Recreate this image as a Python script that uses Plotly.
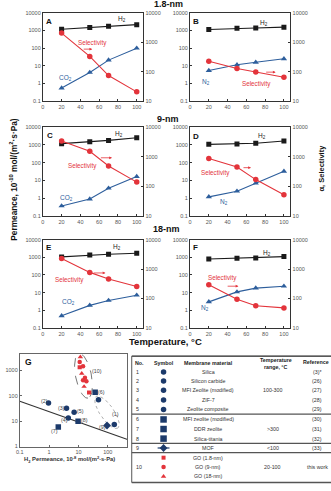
import numpy as np
import plotly.graph_objects as go

W, H = 331, 491
FONT = "Liberation Sans, Arial, Helvetica, sans-serif"
RED = "#e3343b"
BLUE = "#2d5e9c"
BLACK = "#1a1a1a"
NAVY = "#1c3a6b"
AX = "#333333"


def fx(p):
    return p / W


def fy(p):
    return 1 - p / H


# ---------------- data: panels A-F ----------------
temps = [20, 50, 70, 100]

a_h2 = [1180, 1470, 1740, 2150]
a_co2 = [0.55, 4.2, 21, 100]
a_sel = [2050, 330, 74, 20.6]

b_h2 = [1140, 1350, 1400, 1550]
b_n2 = [5.4, 11.4, 15.8, 25]
b_sel = [227, 129, 97, 65]

c_h2 = [1180, 1500, 1800, 2550]
c_co2 = [0.37, 0.9, 3.7, 16.7]
c_sel = [3400, 1540, 490, 140]

d_h2 = [1080, 1120, 1250, 1650]
d_n2 = [1.2, 2.5, 7.1, 33]
d_sel = [880, 450, 170, 52]

e_h2 = [1050, 1350, 1470, 1670]
e_co2 = [0.49, 1.9, 3.6, 7.1]
e_sel = [2300, 770, 460, 255]

f_h2 = [800, 880, 900, 1090]
f_n2 = [3.0, 11, 18, 23]
f_sel = [293, 95, 57, 48]

left_ticks = [0.1, 1, 10, 100, 1000, 10000]
left_ticktext = ["0.1", "1", "10", "100", "1000", "10000"]
right_ticks = [10, 100, 1000, 10000]
right_ticktext = ["10", "100", "1000", "10000"]
temp_ticks = [0, 20, 40, 60, 80, 100]

# ---------------- data: panel G ----------------
g_circle_x = [48, 166, 0.95, 3.9, 4.5, 7.1]
g_circle_y = [68, 7.3, 51, 32, 13.3, 22]
g_square_x = [37, 2.05, 9.7]
g_square_y = [135, 5.8, 9.9]
g_mof_x = [94]
g_mof_y = [6.7]
g_go18_x = [11, 23]          # GO 1.8-nm (squares)
g_go18_y = [1300, 132]
g_go9_x = [11, 14.3, 16.6, 14.3, 18.6]   # GO 9-nm (circles)
g_go9_y = [2100, 1420, 500, 405, 370]
g_go180_x = [11.6, 12.9, 15.5]  # GO 18-nm (triangles)
g_go180_y = [3300, 740, 225]
g_bound_x = [0.1, 470]
g_bound_y = [60, 1.9]
g_xticks = [0.1, 1, 10, 100]
g_xticktext = ["0.1", "1", "10", "100"]
g_yticks = [1, 10, 100, 1000]
g_yticktext = ["1", "10", "100", "1000"]

# ---------------- table ----------------
table_no = ["1", "2", "3", "4", "5", "6", "7", "8", "9", "10"]
table_material = ["Silica", "Silicon carbide", "MFI Zeolite (modified)", "ZIF-7",
                  "Zeolite composite", "MFI zeolite (modified)", "DDR zeolite",
                  "Silica-titania", "MOF", "GO (1.8-nm)", "GO (9-nm)", "GO (18-nm)"]
table_ref = ["(3)*", "(26)", "(27)", "(28)", "(29)", "(30)", "(31)", "(32)", "(33)"]
table_temp = ["100-300", ">300", "<100", "20-100"]

# ---------------- layout geometry (pixels) ----------------
cols = [(39.3, 141.0), (188.3, 290.0)]
rows = [(10.0, 99.3), (125.7, 215.7), (239.5, 329.0)]
X_RANGE = [0, 107]

panels = [
    dict(letter="A", h2=a_h2, gas=a_co2, gname="CO<sub>2</sub>", sel=a_sel,
         lp=(45.5, 18.3), h2p=(119, 16.5), gp=(62.5, 76), sp=(90, 40.8), ar=(79.3, 89.3, 46.7)),
    dict(letter="B", h2=b_h2, gas=b_n2, gname="N<sub>2</sub>", sel=b_sel,
         lp=(194.5, 18.3), h2p=(263.3, 20), gp=(204.3, 79.5), sp=(256, 82.5), ar=(264, 275, 70)),
    dict(letter="C", h2=c_h2, gas=c_co2, gname="CO<sub>2</sub>", sel=c_sel,
         lp=(47, 134), h2p=(116, 132.5), gp=(63.3, 197.5), sp=(79, 165), ar=(96.7, 109.3, 156.7)),
    dict(letter="D", h2=d_h2, gas=d_n2, gname="N<sub>2</sub>", sel=d_sel,
         lp=(194.5, 135), h2p=(261.3, 135), gp=(223, 201), sp=(214, 172.5), ar=(241, 250, 166.7)),
    dict(letter="E", h2=e_h2, gas=e_co2, gname="CO<sub>2</sub>", sel=e_sel,
         lp=(45.8, 247.5), h2p=(114, 246.7), gp=(65, 302.5), sp=(66.7, 280.8), ar=(89.3, 102.7, 273.3)),
    dict(letter="F", h2=f_h2, gas=f_n2, gname="N<sub>2</sub>", sel=f_sel,
         lp=(194, 247.5), h2p=(266, 253), gp=(203.7, 309), sp=(220.7, 278.5), ar=(225, 237.3, 286.7)),
]


def aname(kind, n):
    return kind if n == 1 else f"{kind}{n}"


def akey(kind, n):
    return f"{kind}axis" if n == 1 else f"{kind}axis{n}"


tick_font = dict(size=5.5, color="#555555", family=FONT)

fig = go.Figure()
layout = dict(width=W, height=H, margin=dict(l=0, r=0, t=0, b=0),
              paper_bgcolor="white", plot_bgcolor="rgba(0,0,0,0)",
              showlegend=False, font=dict(family=FONT, color="#333"))
annotations = []
shapes = []

common_axis = dict(showline=True, linecolor=AX, linewidth=1, showgrid=False, zeroline=False,
                   ticks="inside", ticklen=2, tickwidth=0.8, tickcolor=AX, tickfont=tick_font)

for i, p in enumerate(panels):
    r, c = divmod(i, 2)
    xl, xr = cols[c]
    yt, yb = rows[r]
    xn = i + 1
    yl = 2 * i + 1
    yr = 2 * i + 2
    layout[akey("x", xn)] = dict(domain=[fx(xl), fx(xr)], range=X_RANGE, anchor=aname("y", yl),
                                 tickvals=temp_ticks, mirror=True, **common_axis)
    layout[akey("y", yl)] = dict(domain=[fy(yb), fy(yt)], type="log", range=[-1, 4],
                                 anchor=aname("x", xn), tickvals=left_ticks, ticktext=left_ticktext,
                                 **common_axis)
    layout[akey("y", yr)] = dict(overlaying=aname("y", yl), side="right", type="log", range=[1, 4],
                                 anchor=aname("x", xn), tickvals=right_ticks, ticktext=right_ticktext,
                                 **common_axis)
    xa, ya_l, ya_r = aname("x", xn), aname("y", yl), aname("y", yr)
    fig.add_trace(go.Scatter(x=temps, y=p["gas"], mode="lines+markers", xaxis=xa, yaxis=ya_l,
                             line=dict(color=BLUE, width=1.1),
                             marker=dict(symbol="triangle-up", size=5.5, color=BLUE)))
    fig.add_trace(go.Scatter(x=temps, y=p["h2"], mode="lines+markers", xaxis=xa, yaxis=ya_l,
                             line=dict(color=BLACK, width=1.1),
                             marker=dict(symbol="square", size=5, color=BLACK)))
    fig.add_trace(go.Scatter(x=temps, y=p["sel"], mode="lines+markers", xaxis=xa, yaxis=ya_r,
                             line=dict(color=RED, width=1.1),
                             marker=dict(symbol="circle", size=5.5, color=RED)))
    annotations.append(dict(x=fx(p["lp"][0]), y=fy(p["lp"][1]), text=f"<b>{p['letter']}</b>",
                            showarrow=False, font=dict(size=8, color="#111")))
    annotations.append(dict(x=fx(p["h2p"][0]), y=fy(p["h2p"][1]), text="H<sub>2</sub>",
                            showarrow=False, font=dict(size=6.5, color="#222")))
    annotations.append(dict(x=fx(p["gp"][0]), y=fy(p["gp"][1]), text=p["gname"],
                            showarrow=False, font=dict(size=6.5, color=BLUE)))
    annotations.append(dict(x=fx(p["sp"][0]), y=fy(p["sp"][1]), text="Selectivity",
                            showarrow=False, font=dict(size=6.3, color=RED)))
    x0, x1, yy = p["ar"]
    annotations.append(dict(x=fx(x1), y=fy(yy), ax=-(x1 - x0), ay=0, text="", showarrow=True,
                            arrowhead=2, arrowsize=0.7, arrowwidth=0.8, arrowcolor=RED))

# section titles and axis titles (the top title is cut by the page edge, as in the source)
for txt, (xx, yy, sz) in [("1.8-nm", (166.5, 1.5, 9)), ("9-nm", (166, 117.5, 9)),
                          ("18-nm", (164, 228.5, 9))]:
    annotations.append(dict(x=fx(xx), y=fy(yy), text=f"<b>{txt}</b>", showarrow=False,
                            font=dict(size=sz, color="#111")))
annotations.append(dict(x=fx(163), y=fy(342.5), text="<b>Temperature, °C</b>", showarrow=False,
                        font=dict(size=9.5, color="#111")))
annotations.append(dict(x=fx(9), y=fy(178), textangle=-90, showarrow=False,
                        text="<b>Permeance, 10<sup>-10</sup> mol/(m<sup>2</sup>·s·Pa)</b>",
                        font=dict(size=8.3, color="#111")))
annotations.append(dict(x=fx(321), y=fy(167.5), textangle=-90, showarrow=False,
                        text="<b>α, Selectivity</b>", font=dict(size=7.5, color="#111")))

# ---------------- panel G ----------------
GX = (16, 125)
GY = (355.7, 449)
g_axis = {**common_axis, "linecolor": "#666", "tickcolor": "#666"}
layout["xaxis7"] = dict(domain=[fx(GX[0]), fx(GX[1])], type="log", range=[-1, 2.67], anchor="y13",
                        tickvals=g_xticks, ticktext=g_xticktext, mirror=True, **g_axis)
layout["yaxis13"] = dict(domain=[fy(GY[1]), fy(GY[0])], type="log", range=[0, 3.62], anchor="x7",
                         tickvals=g_yticks, ticktext=g_yticktext, mirror=True, **g_axis)

fig.add_trace(go.Scatter(x=g_bound_x, y=g_bound_y, mode="lines", xaxis="x7", yaxis="y13",
                         line=dict(color="#333", width=1.1)))


def g_px_to_data(px_x, px_y):
    lx = -1 + (px_x - GX[0]) / (GX[1] - GX[0]) * 3.67
    ly = (GY[1] - px_y) / (GY[1] - GY[0]) * 3.62
    return 10 ** lx, 10 ** ly


def ellipse(cx, cy, tip_dx, tip_dy, minor):
    L = np.hypot(tip_dx, tip_dy)
    ux, uy = tip_dx / L, tip_dy / L
    vx, vy = -uy, ux
    t = np.linspace(0, 2 * np.pi, 80)
    px_ = cx + L * np.cos(t) * ux + minor * np.sin(t) * vx
    py_ = cy + L * np.cos(t) * uy + minor * np.sin(t) * vy
    return g_px_to_data(px_, py_)


ex, ey = ellipse(80.5, 377.5, 4.5, 22.5, 8.0)
fig.add_trace(go.Scatter(x=ex, y=ey, mode="lines", xaxis="x7", yaxis="y13",
                         line=dict(color="#555", width=0.8, dash="dash")))
ex, ey = ellipse(104.2, 414.3, 11, 16, 7)
fig.add_trace(go.Scatter(x=ex, y=ey, mode="lines", xaxis="x7", yaxis="y13",
                         line=dict(color="#999", width=0.8, dash="dot")))

fig.add_trace(go.Scatter(x=g_circle_x, y=g_circle_y, mode="markers", xaxis="x7", yaxis="y13",
                         marker=dict(symbol="circle", size=5.5, color=NAVY)))
fig.add_trace(go.Scatter(x=g_square_x, y=g_square_y, mode="markers", xaxis="x7", yaxis="y13",
                         marker=dict(symbol="square", size=5.5, color=NAVY)))
fig.add_trace(go.Scatter(x=g_mof_x, y=g_mof_y, mode="markers", xaxis="x7", yaxis="y13",
                         marker=dict(symbol="diamond", size=6, color=NAVY)))
fig.add_trace(go.Scatter(x=g_go18_x, y=g_go18_y, mode="markers", xaxis="x7", yaxis="y13",
                         marker=dict(symbol="square", size=4.2, color=RED)))
fig.add_trace(go.Scatter(x=g_go9_x, y=g_go9_y, mode="markers", xaxis="x7", yaxis="y13",
                         marker=dict(symbol="circle", size=4.5, color=RED)))
fig.add_trace(go.Scatter(x=g_go180_x, y=g_go180_y, mode="markers", xaxis="x7", yaxis="y13",
                         marker=dict(symbol="triangle-up", size=4.8, color=RED)))

g_labels = [("(10)", 94.3, 372.3), ("(6)", 98.3, 393.5), ("(1)", 113, 416), ("(2)", 40.7, 403),
            ("(3)", 57.7, 410), ("(5)", 77.3, 413), ("(4)", 61, 421.7), ("(8)", 81.7, 422.3),
            ("(7)", 50.7, 433.3), ("(9)", 99.3, 429.3)]
for t, xx, yy in g_labels:
    annotations.append(dict(x=fx(xx), y=fy(yy), text=t, showarrow=False,
                            font=dict(size=5.3, color="#444")))
annotations.append(dict(x=fx(25), y=fy(363.5), text="<b>G</b>", showarrow=False,
                        font=dict(size=8.5, color="#111")))
annotations.append(dict(x=fx(66.5), y=fy(462), showarrow=False,
                        text="<b>H<sub>2</sub> Permeance, 10<sup>-8</sup> mol/(m<sup>2</sup>·s·Pa)</b>",
                        font=dict(size=5.8, color="#333")))

# ---------------- table ----------------
T_LEFT, T_RIGHT, T_TOP, T_BOT = 129.3, 331, 357.5, 485.5
row_y = [373.5, 382.6, 392.1, 401.8, 411.5, 421.6, 431.3, 441.0, 450.5, 460.3, 469.8, 479.3]
COL_NO, COL_SYM, COL_MAT, COL_TEMP, COL_REF = 130.8, 161.5, 206.7, 272, 317

shapes.append(dict(type="line", xref="paper", yref="paper", x0=fx(T_LEFT), x1=fx(T_RIGHT),
                   y0=fy(T_TOP), y1=fy(T_TOP), line=dict(color="#222", width=1.3)))
for yy in [416.2, 445.8, 455.2, T_BOT]:
    shapes.append(dict(type="line", xref="paper", yref="paper", x0=fx(T_LEFT), x1=fx(T_RIGHT),
                       y0=fy(yy), y1=fy(yy), line=dict(color="#555", width=1.4)))
shapes.append(dict(type="line", xref="paper", yref="paper", x0=fx(T_LEFT), x1=fx(T_LEFT),
                   y0=fy(T_TOP), y1=fy(T_BOT), line=dict(color="#555", width=1)))

hdr_font = dict(size=5.3, color="#222")
annotations += [
    dict(x=fx(COL_NO), y=fy(364), text="<b>No.</b>", xanchor="left", showarrow=False, font=hdr_font),
    dict(x=fx(COL_SYM), y=fy(364), text="<b>Symbol</b>", showarrow=False, font=hdr_font),
    dict(x=fx(COL_MAT), y=fy(364), text="<b>Membrane material</b>", showarrow=False, font=hdr_font),
    dict(x=fx(COL_TEMP + 3), y=fy(361.6), text="<b>Temperature</b>", showarrow=False, font=hdr_font),
    dict(x=fx(COL_TEMP + 3), y=fy(368.2), text="<b>range, °C</b>", showarrow=False, font=hdr_font),
    dict(x=fx(330.5), y=fy(363), text="<b>Reference</b>", xanchor="right", showarrow=False,
         font=hdr_font),
]
cell_font = dict(size=5.3, color="#333")
for k in range(9):
    annotations.append(dict(x=fx(COL_NO + 0.6), y=fy(row_y[k]), text=table_no[k], xanchor="left",
                            showarrow=False, font=cell_font))
annotations.append(dict(x=fx(COL_NO + 0.6), y=fy(row_y[10]), text=table_no[9], xanchor="left",
                        showarrow=False, font=cell_font))
for k, m in enumerate(table_material):
    annotations.append(dict(x=fx(COL_MAT), y=fy(row_y[k]), text=m, showarrow=False, font=cell_font))
for k, rf in enumerate(table_ref):
    annotations.append(dict(x=fx(COL_REF), y=fy(row_y[k]), text=rf, showarrow=False, font=cell_font))
annotations.append(dict(x=fx(329.5), y=fy(row_y[10]), text="this work", xanchor="right",
                        showarrow=False, font=cell_font))
for t, yy in zip(table_temp, [row_y[2], row_y[6], row_y[8], row_y[10]]):
    annotations.append(dict(x=fx(COL_TEMP), y=fy(yy), text=t, showarrow=False, font=cell_font))

# table symbols on a hidden pixel-space axis
layout["xaxis8"] = dict(domain=[0, 1], range=[0, W], visible=False, anchor="y14", fixedrange=True)
layout["yaxis14"] = dict(domain=[0, 1], range=[H, 0], visible=False, anchor="x8", fixedrange=True)
fig.add_trace(go.Scatter(x=[COL_SYM] * 5, y=row_y[0:5], mode="markers", xaxis="x8", yaxis="y14",
                         marker=dict(symbol="circle", size=5.5, color=NAVY)))
fig.add_trace(go.Scatter(x=[COL_SYM] * 3, y=row_y[5:8], mode="markers", xaxis="x8", yaxis="y14",
                         marker=dict(symbol="square", size=6.5, color=NAVY)))
fig.add_trace(go.Scatter(x=[COL_SYM - 6, COL_SYM + 6], y=[row_y[8]] * 2, mode="lines", xaxis="x8",
                         yaxis="y14", line=dict(color=NAVY, width=1.2)))
fig.add_trace(go.Scatter(x=[COL_SYM], y=[row_y[8]], mode="markers", xaxis="x8", yaxis="y14",
                         marker=dict(symbol="diamond", size=6, color=NAVY)))
fig.add_trace(go.Scatter(x=[COL_SYM], y=[row_y[9]], mode="markers", xaxis="x8", yaxis="y14",
                         marker=dict(symbol="square", size=4, color=RED)))
fig.add_trace(go.Scatter(x=[COL_SYM], y=[row_y[10]], mode="markers", xaxis="x8", yaxis="y14",
                         marker=dict(symbol="circle", size=4.5, color=RED)))
fig.add_trace(go.Scatter(x=[COL_SYM], y=[row_y[11]], mode="markers", xaxis="x8", yaxis="y14",
                         marker=dict(symbol="triangle-up", size=4.8, color=RED)))

for a in annotations:
    a.setdefault("xref", "paper")
    a.setdefault("yref", "paper")
    a.setdefault("xanchor", "center")
    a.setdefault("yanchor", "middle")
layout["annotations"] = annotations
layout["shapes"] = shapes
fig.update_layout(**layout)
fig.update_traces(hoverinfo="skip")
fig.write_html("out.html")
